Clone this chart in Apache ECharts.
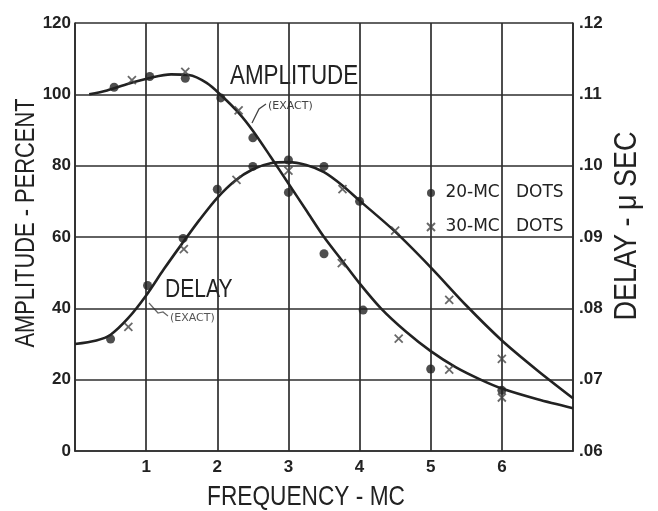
<!DOCTYPE html>
<html>
<head>
<meta charset="utf-8">
<script src="https://cdn.jsdelivr.net/npm/echarts@6/dist/echarts.min.js"></script>
<style>
html,body{margin:0;padding:0;background:#fff;}
#chart{width:658px;height:511px;}
</style>
</head>
<body>
<div id="chart"></div>
<script>
// ---- Data ----
// X axis: frequency in MC
const xTicks = [0, 1, 2, 3, 4, 5, 6, 7];
const ampTicks = [0, 20, 40, 60, 80, 100, 120];
const delayTicks = ['.06', '.07', '.08', '.09', '.10', '.11', '.12'];

// Amplitude (exact) curve, percent
const ampCurveFreq = [0.2, 0.45, 0.75, 1.05, 1.35, 1.6, 1.85, 2.05, 2.3, 2.5, 2.75, 3.0, 3.25, 3.5, 3.75, 4.0, 4.3, 4.65, 5.0, 5.35, 5.7, 6.0, 6.5, 7.0];
const ampCurveVal  = [100, 101.1, 103, 104.6, 105.6, 105.4, 103.2, 99.8, 94.8, 89.8, 82.5, 75, 67.5, 60, 53.5, 47, 40, 33.5, 28, 23.5, 20, 17.5, 14.5, 12];

// Delay (exact) curve, microseconds
const delayCurveFreq = [0, 0.3, 0.5, 0.75, 1.0, 1.25, 1.5, 1.75, 2.0, 2.25, 2.5, 2.75, 3.0, 3.25, 3.5, 3.75, 4.0, 4.5, 5.0, 5.5, 6.0, 6.5, 7.0];
const delayCurveVal  = [0.0750, 0.0755, 0.0763, 0.07865, 0.0818, 0.0855, 0.0890, 0.0924, 0.0955, 0.0979, 0.0995, 0.10035, 0.1005, 0.1001, 0.0991, 0.0973, 0.0951, 0.09075, 0.08575, 0.0804, 0.0755, 0.0713, 0.0674];

// Amplitude measured points
const amp20Freq = [0.55, 1.05, 1.55, 2.05, 2.5, 3.0, 3.5, 4.05, 5.0, 6.0];
const amp20Val  = [102, 105, 104.5, 99, 87.8, 72.5, 55.3, 39.5, 23, 17];
const amp30Freq = [0.8, 1.55, 2.3, 3.75, 4.55, 5.26, 6.0];
const amp30Val  = [104, 106.3, 95.5, 52.7, 31.5, 22.8, 15];

// Delay measured points (microseconds)
const delay20Freq = [0.5, 1.02, 1.52, 2.0, 2.5, 3.0, 3.5, 4.0];
const delay20Val  = [0.0757, 0.0832, 0.0898, 0.0967, 0.0999, 0.1008, 0.0999, 0.0950];
const delay30Freq = [0.75, 1.53, 2.27, 3.0, 3.76, 4.5, 5.26, 6.0];
const delay30Val  = [0.0774, 0.0883, 0.0980, 0.0993, 0.0967, 0.0909, 0.0812, 0.0729];

const legendNames = ['20-MC DOTS', '30-MC DOTS'];

// ---- helpers ----
const zip = (a, b) => a.map((v, i) => [v, b[i]]);
const INK = '#222';
const GRID = '#2e2e2e';
const SANS = '"Liberation Sans", Arial, sans-serif';
const xPath = 'path://M0,0L10,10M10,0L0,10';

const chart = echarts.init(document.getElementById('chart'), null, {renderer: 'canvas'});

const dotStyle = {color: INK};
const crossStyle = {color: 'rgba(0,0,0,0)', borderColor: '#444', borderWidth: 1.8};
const tickFont = {color: INK, fontFamily: SANS, fontSize: 17, fontWeight: 'bold'};

chart.setOption({
  animation: false,
  backgroundColor: '#fff',
  grid: {left: 75, top: 23, width: 498, height: 428, containLabel: false},
  xAxis: {
    type: 'value', min: xTicks[0], max: xTicks[xTicks.length - 1], interval: 1,
    axisLine: {show: true, lineStyle: {color: GRID, width: 1.7}},
    axisTick: {show: false},
    splitLine: {show: true, lineStyle: {color: GRID, width: 1.7}},
    axisLabel: Object.assign({margin: 8,
      formatter: v => (v === xTicks[0] || v === xTicks[xTicks.length - 1]) ? '' : String(v)}, tickFont)
  },
  yAxis: [
    {
      type: 'value', min: ampTicks[0], max: ampTicks[ampTicks.length - 1], interval: 20,
      axisLine: {show: true, lineStyle: {color: GRID, width: 1.7}},
      axisTick: {show: false},
      splitLine: {show: true, lineStyle: {color: GRID, width: 1.7}},
      axisLabel: Object.assign({margin: 4, formatter: v => String(Math.round(v))}, tickFont)
    },
    {
      type: 'value', min: 0.06, max: 0.12, interval: 0.01, position: 'right',
      axisLine: {show: true, lineStyle: {color: GRID, width: 1.7}},
      axisTick: {show: false},
      splitLine: {show: false},
      axisLabel: Object.assign({margin: 6,
        formatter: v => delayTicks[Math.round((v - 0.06) * 100)] || ''}, tickFont)
    }
  ],
  legend: {
    left: 421, top: 178, orient: 'vertical', itemGap: 14,
    itemWidth: 8, itemHeight: 8, selectedMode: false,
    data: legendNames,
    formatter: n => ' ' + n.replace(' ', '   '),
    textStyle: {fontFamily: '"DejaVu Sans", sans-serif', fontSize: 17, color: INK, lineHeight: 20}
  },
  series: [
    {
      name: 'Amplitude (exact)', type: 'line', yAxisIndex: 0, smooth: 0.3,
      showSymbol: false, data: zip(ampCurveFreq, ampCurveVal),
      lineStyle: {color: INK, width: 2.6}, z: 3
    },
    {
      name: 'Delay (exact)', type: 'line', yAxisIndex: 1, smooth: 0.3,
      showSymbol: false, data: zip(delayCurveFreq, delayCurveVal),
      lineStyle: {color: INK, width: 2.6}, z: 3
    },
    {
      name: legendNames[0], type: 'scatter', yAxisIndex: 0, symbol: 'circle', symbolSize: 9,
      data: zip(amp20Freq, amp20Val), itemStyle: dotStyle, z: 4
    },
    {
      name: legendNames[0], type: 'scatter', yAxisIndex: 1, symbol: 'circle', symbolSize: 9,
      data: zip(delay20Freq, delay20Val), itemStyle: dotStyle, z: 4
    },
    {
      name: legendNames[1], type: 'scatter', yAxisIndex: 0, symbol: xPath, symbolSize: 8,
      data: zip(amp30Freq, amp30Val), itemStyle: crossStyle, z: 4
    },
    {
      name: legendNames[1], type: 'scatter', yAxisIndex: 1, symbol: xPath, symbolSize: 8,
      data: zip(delay30Freq, delay30Val), itemStyle: crossStyle, z: 4
    }
  ],
  graphic: [
    {type: 'text', x: 27, y: 223, rotation: Math.PI / 2, scaleX: 0.81,
      style: {text: 'AMPLITUDE - PERCENT', font: '27px ' + SANS, fill: INK, align: 'center', verticalAlign: 'middle'}},
    {type: 'text', x: 306, y: 497, scaleX: 0.81,
      style: {text: 'FREQUENCY - MC', font: '28px ' + SANS, fill: INK, align: 'center', verticalAlign: 'middle'}},
    {type: 'text', x: 627, y: 226, rotation: Math.PI / 2, scaleX: 0.87,
      style: {text: 'DELAY - \u03BC SEC', font: '31px ' + SANS, fill: INK, align: 'center', verticalAlign: 'middle'}},
    {type: 'text', x: 230, y: 76, scaleX: 0.8,
      style: {text: 'AMPLITUDE', font: '28px ' + SANS, fill: INK, align: 'left', verticalAlign: 'middle'}},
    {type: 'text', x: 268, y: 106,
      style: {text: '(EXACT)', font: '11px "DejaVu Sans", sans-serif', fill: '#444', align: 'left', verticalAlign: 'middle'}},
    {type: 'text', x: 165, y: 290, scaleX: 0.81,
      style: {text: 'DELAY', font: '26px ' + SANS, fill: INK, align: 'left', verticalAlign: 'middle'}},
    {type: 'text', x: 170, y: 318,
      style: {text: '(EXACT)', font: '11px "DejaVu Sans", sans-serif', fill: '#555', align: 'left', verticalAlign: 'middle'}},
    {type: 'polyline', shape: {points: [[266, 104], [259, 109], [252, 123]]},
      style: {stroke: '#444', lineWidth: 1.3, fill: null}},
    {type: 'polyline', shape: {points: [[168, 316], [163, 312], [158, 313], [149, 303]]},
      style: {stroke: '#666', lineWidth: 1.2, fill: null}}
  ]
});
</script>
</body>
</html>
